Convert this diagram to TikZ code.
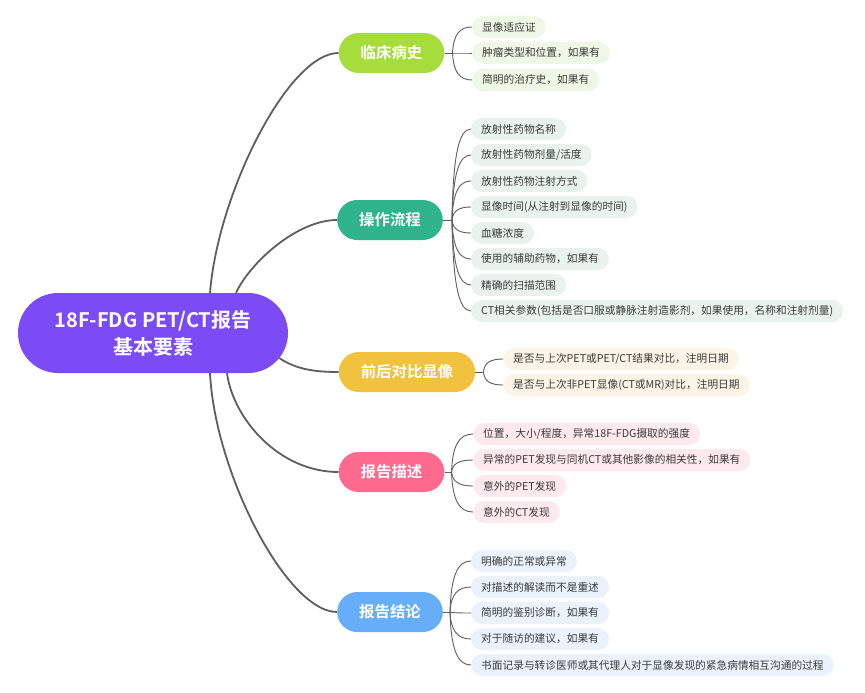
\documentclass[tikz,border=0pt]{standalone}
\usepackage{fontspec}
\setmainfont{Noto Sans CJK SC}[BoldFont={Noto Sans CJK SC Bold}]
\usetikzlibrary{calc}

\definecolor{rootc}{HTML}{7B4CF6}
\definecolor{grnc}{HTML}{A6DC3C}
\definecolor{grnl}{HTML}{EFF8E6}
\definecolor{tealc}{HTML}{2EB38A}
\definecolor{teall}{HTML}{E8F3EE}
\definecolor{yelc}{HTML}{F1C23D}
\definecolor{yell}{HTML}{FCF4E6}
\definecolor{pinkc}{HTML}{FE6A8E}
\definecolor{pinkl}{HTML}{FEE9EE}
\definecolor{bluec}{HTML}{66AEFA}
\definecolor{bluel}{HTML}{EAF2FE}
\definecolor{linec}{HTML}{5E5E5E}
\definecolor{leaftxt}{HTML}{3A3A3A}

\tikzset{
  rootbox/.style={fill=rootc, text=white, rounded corners=40pt, minimum width=270pt,
    minimum height=80pt, align=center, font=\fontsize{20}{27}\selectfont\bfseries},
  topic/.style={fill=#1, text=white, rounded corners=20pt, minimum height=40pt,
    inner xsep=22pt, font=\fontsize{15.4}{18}\selectfont\bfseries},
  leaf/.style={fill=#1, text=leaftxt, rounded corners=11pt, minimum height=22pt,
    inner xsep=10pt, inner ysep=0pt, anchor=west, font=\fontsize{10.7}{13}\selectfont},
  mainline/.style={draw=linec, line width=1.8pt},
  subline/.style={draw=linec, line width=0.9pt}
}

% curved branch from a junction point #1 to the west side of leaf node #2
\newcommand\leafcurve[2]{%
  \draw[subline] let \p1=(#1), \p2=(#2.west) in
    (#1) .. controls (\x1+1pt,{\y1+0.7*(\y2-\y1)}) and ({\x1+0.35*(\x2-\x1)},\y2) .. (#2.west);}

\begin{document}
\begin{tikzpicture}[x=1pt, y=-1pt]
  \useasboundingbox[fill=white] (0,0) rectangle (865,693);

  % central topic
  \node[rootbox] (root) at (153,333) {18F-FDG PET/CT报告\\基本要素};

  % main topics
  \node[topic=grnc]  (ta) at (391.5,53)  {临床病史};
  \node[topic=tealc] (tb) at (390,220)   {操作流程};
  \node[topic=yelc]  (tc) at (407,372)   {前后对比显像};
  \node[topic=pinkc] (td) at (391.5,472) {报告描述};
  \node[topic=bluec] (te) at (390,612)   {报告结论};

  % connectors from the central topic
  \draw[mainline] ([xshift=57]root.north) .. controls +(8,-100) and +(-50,0) .. (ta.west);
  \draw[mainline] ([xshift=83]root.north) .. controls +(14,-30) and +(-40,0) .. (tb.west);
  \draw[mainline] ([shift={(-9,25)}]root.east) .. controls +(18,12) and +(-22,0) .. (tc.west);
  \draw[mainline] ([xshift=74]root.south) .. controls +(6,45) and +(-60,0) .. (td.west);
  \draw[mainline] ([xshift=57]root.south) .. controls +(5,100) and +(-50,0) .. (te.west);

  % junction points behind each main topic
  \coordinate (ja) at ([xshift=8]ta.east);
  \coordinate (jb) at ([xshift=9]tb.east);
  \coordinate (jc) at ([xshift=8]tc.east);
  \coordinate (jd) at ([xshift=7]td.east);
  \coordinate (je) at ([xshift=7]te.east);

  % clinical history
  \node[leaf=grnl] (a1) at (472,27) {显像适应证};
  \node[leaf=grnl] (a2) at (472,53) {肿瘤类型和位置，如果有};
  \node[leaf=grnl] (a3) at (472,80) {简明的治疗史，如果有};

  % procedure
  \node[leaf=teall] (b1) at (471,129) {放射性药物名称};
  \node[leaf=teall] (b2) at (471,155) {放射性药物剂量/活度};
  \node[leaf=teall] (b3) at (471,181) {放射性药物注射方式};
  \node[leaf=teall] (b4) at (471,207) {显像时间(从注射到显像的时间)};
  \node[leaf=teall] (b5) at (471,233) {血糖浓度};
  \node[leaf=teall] (b6) at (471,259) {使用的辅助药物，如果有};
  \node[leaf=teall] (b7) at (471,285) {精确的扫描范围};
  \node[leaf=teall] (b8) at (471,311) {CT相关参数(包括是否口服或静脉注射造影剂，如果使用，名称和注射剂量)};

  % comparison
  \node[leaf=yell] (c1) at (503,359) {是否与上次PET或PET/CT结果对比，注明日期};
  \node[leaf=yell] (c2) at (503,385) {是否与上次非PET显像(CT或MR)对比，注明日期};

  % findings
  \node[leaf=pinkl] (d1) at (473,434) {位置，大小/程度，异常18F-FDG摄取的强度};
  \node[leaf=pinkl] (d2) at (473,460) {异常的PET发现与同机CT或其他影像的相关性，如果有};
  \node[leaf=pinkl] (d3) at (473,486) {意外的PET发现};
  \node[leaf=pinkl] (d4) at (473,512) {意外的CT发现};

  % impression
  \node[leaf=bluel] (e1) at (471,561) {明确的正常或异常};
  \node[leaf=bluel] (e2) at (471,587) {对描述的解读而不是重述};
  \node[leaf=bluel] (e3) at (471,613) {简明的鉴别诊断，如果有};
  \node[leaf=bluel] (e4) at (471,639) {对于随访的建议，如果有};
  \node[leaf=bluel] (e5) at (471,665) {书面记录与转诊医师或其代理人对于显像发现的紧急病情相互沟通的过程};

  % stubs and branch curves
  \draw[subline] (ta.east) -- (ja);
  \draw[subline] (tb.east) -- (jb);
  \draw[subline] (tc.east) -- (jc);
  \draw[subline] (td.east) -- (jd);
  \draw[subline] (te.east) -- (je);
  \foreach \lf in {a1,a2,a3} {\leafcurve{ja}{\lf}}
  \foreach \lf in {b1,b2,b3,b4,b5,b6,b7,b8} {\leafcurve{jb}{\lf}}
  \foreach \lf in {c1,c2} {\leafcurve{jc}{\lf}}
  \foreach \lf in {d1,d2,d3,d4} {\leafcurve{jd}{\lf}}
  \foreach \lf in {e1,e2,e3,e4,e5} {\leafcurve{je}{\lf}}
\end{tikzpicture}
\end{document}
